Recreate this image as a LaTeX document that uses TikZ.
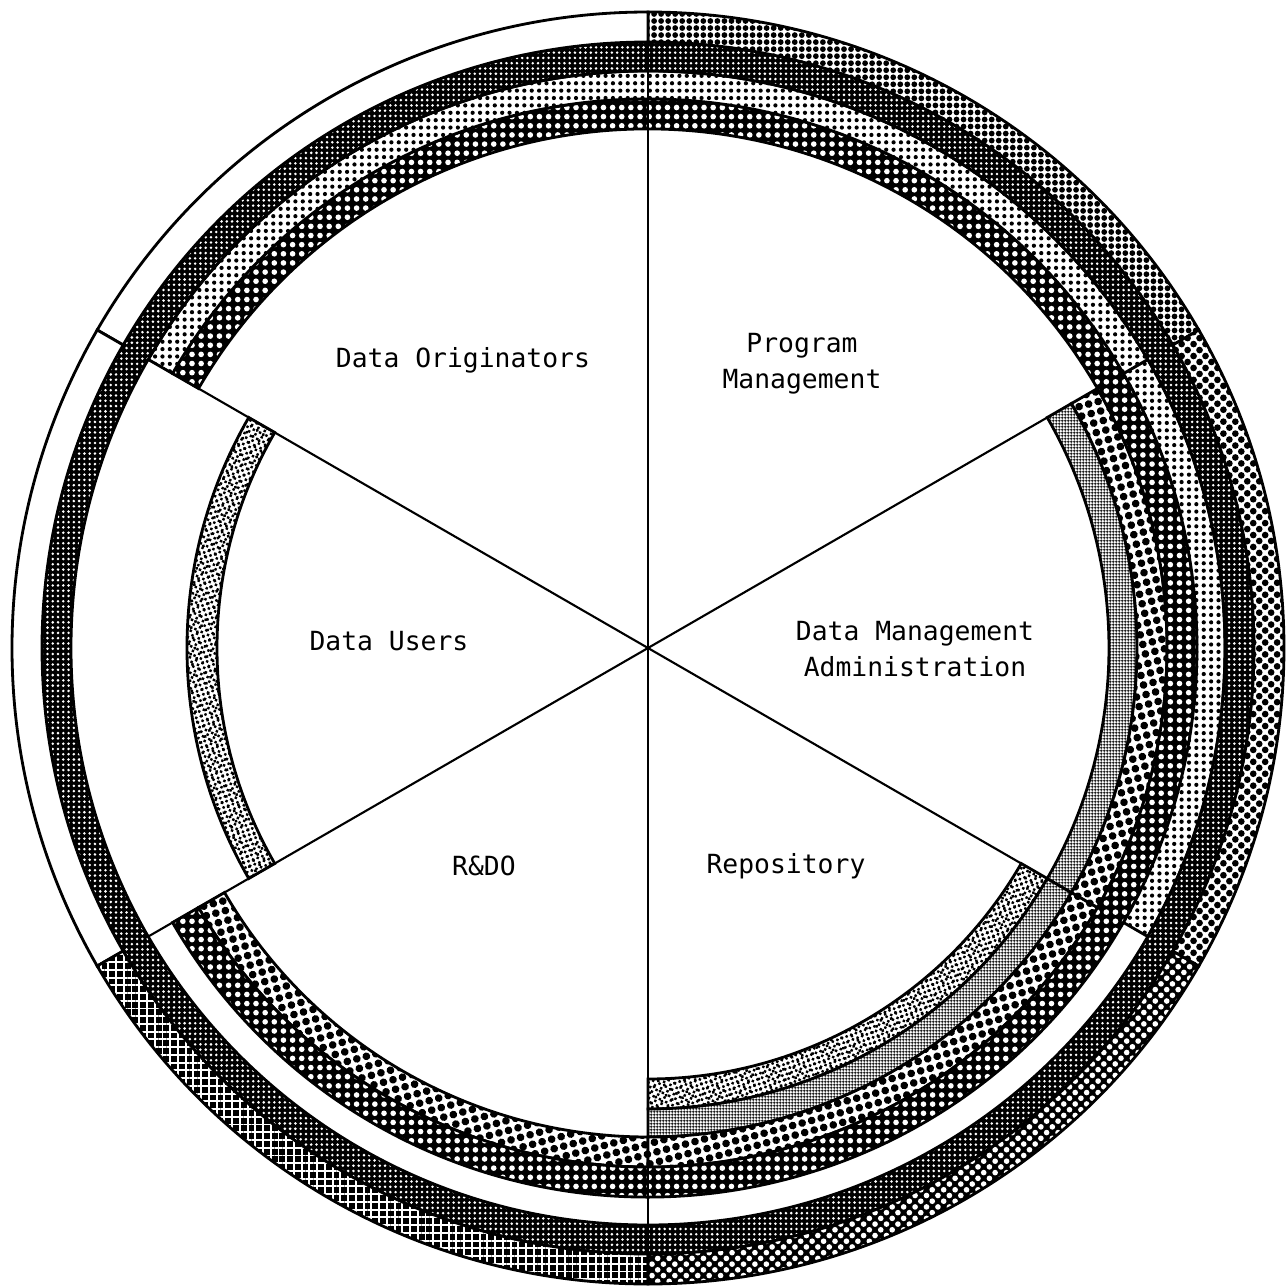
\documentclass[tikz,border=0pt]{standalone}
\usepackage{fontspec}
\setmonofont{DejaVu Sans Mono}
\usetikzlibrary{patterns.meta}
\newcommand\ringarc[5]{\path[#1] (#4:#2) arc[start angle=#4,end angle=#5,radius=#2] -- (#5:#3) arc[start angle=#5,end angle=#4,radius=#3] -- cycle;}
\tikzset{
  edge/.style={draw=black,line width=0.8pt},
  spoke/.style={draw=black,line width=0.6pt},
  speckle/.style={preaction={fill=white},preaction={pattern={Dots[distance=1.4pt,radius=.48pt,angle=20]}},preaction={pattern={Dots[distance=2.1pt,radius=.5pt,angle=-35]}},edge},
  finegrid/.style={preaction={fill=white},preaction={pattern={Hatch[distance=.9pt,line width=.3pt]}},edge},
  honey/.style={preaction={fill=white},preaction={pattern={Dots[distance=2.8pt,radius=1.1pt,angle=15]}},edge},
  darkdots/.style={preaction={fill=black},preaction={pattern={Dots[distance=2.6pt,radius=.8pt]},pattern color=white},edge},
  lightdots/.style={preaction={fill=white},preaction={pattern={Dots[distance=2.1pt,radius=.6pt]}},edge},
  dense/.style={preaction={fill=black},preaction={pattern={Dots[distance=1.5pt,radius=.4pt]},pattern color=white}},
  gdots/.style={preaction={fill=white},preaction={pattern={Dots[distance=2pt,radius=.82pt]}},edge},
  gmesh/.style={preaction={fill=white},preaction={pattern={Dots[distance=2.4pt,radius=.95pt,angle=45]}},edge},
  gholes/.style={preaction={fill=black},preaction={pattern={Dots[distance=2.3pt,radius=.8pt,angle=45]},pattern color=white},edge},
  ggrid/.style={preaction={fill=black},preaction={pattern={Hatch[distance=2.2pt,line width=.55pt]},pattern color=white},edge},
  gblank/.style={fill=white,edge},
  lbl/.style={font=\ttfamily\fontsize{7.5}{10.2}\selectfont,align=center,inner sep=0pt}
}
\begin{document}
\begin{tikzpicture}[x=0.01cm,y=0.01cm]
\useasboundingbox[fill=white] (-648,-639) rectangle (639,648);
\ringarc{speckle}{431}{461}{150}{210}
\ringarc{speckle}{431}{461}{270}{330}
\ringarc{finegrid}{461}{489}{270}{330}
\ringarc{finegrid}{461}{489}{330}{390}
\ringarc{honey}{489}{519}{210}{270}
\ringarc{honey}{489}{519}{270}{330}
\ringarc{honey}{489}{519}{330}{390}
\ringarc{darkdots}{519}{549}{210}{510}
\ringarc{lightdots}{549}{577}{330}{390}
\ringarc{lightdots}{549}{577}{390}{510}
\ringarc{dense}{577}{606}{0}{360}
\draw[edge] (0,0) circle[radius=577] (0,0) circle[radius=606];
\ringarc{gdots}{606}{636}{30}{90}
\ringarc{gblank}{606}{636}{90}{150}
\ringarc{gblank}{606}{636}{150}{210}
\ringarc{ggrid}{606}{636}{210}{270}
\ringarc{gholes}{606}{636}{270}{330}
\ringarc{gmesh}{606}{636}{330}{390}
\coordinate (c) at (0,0);
\draw[spoke] (c) -- (90:636);
\draw[spoke] (c) -- (270:636);
\draw[spoke] (c) -- (150:577);
\draw[spoke] (c) -- (210:577);
\draw[spoke] (c) -- (30:461);
\draw[spoke] (c) -- (330:431);
\node[lbl] (orig) at (-185,288) {Data Originators};
\node[lbl] (prog) at (154,284) {Program\\Management};
\node[lbl] (admin) at (267,-1) {Data Management\\Administration};
\node[lbl] (users) at (-259,7) {Data Users};
\node[lbl] (rdo) at (-164,-218) {R\&DO};
\node[lbl] (repo) at (138,-218) {Repository};
\end{tikzpicture}
\end{document}
